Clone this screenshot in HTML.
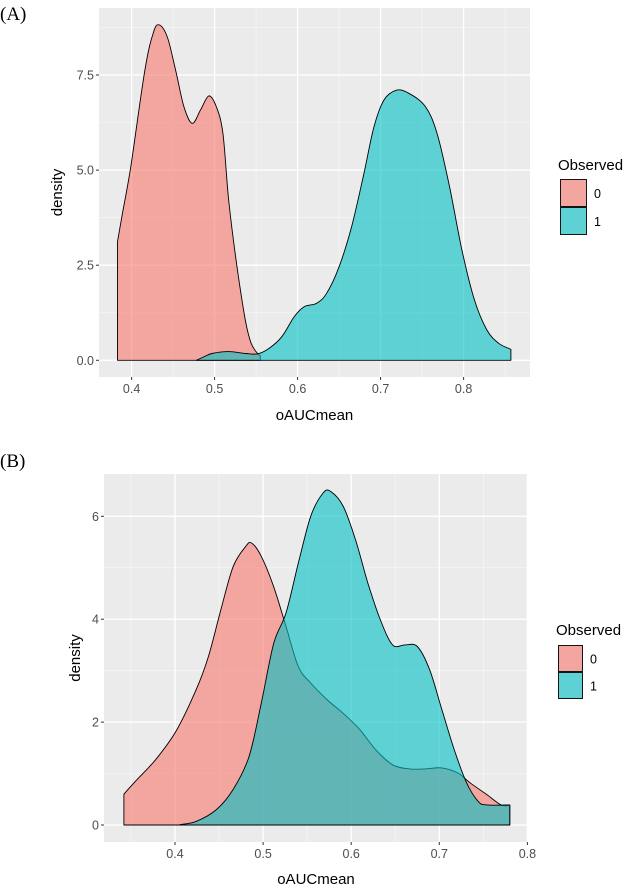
<!DOCTYPE html>
<html><head><meta charset="utf-8"><style>
body{margin:0;background:#fff;}
svg{display:block;font-family:"Liberation Sans",sans-serif;}
</style></head><body>
<svg id="s" width="641" height="888" viewBox="0 0 641 888"></svg>
<script>
// Panel A data
const aX0 = [0.383,0.389,0.399,0.416,0.426,0.433,0.443,0.453,0.463,0.473,0.483,0.493,0.502,0.510,0.517,0.527,0.537,0.544,0.552,0.555];
const aY0 = [3.12,3.87,5.09,7.63,8.6,8.82,8.5,7.63,6.67,6.23,6.58,6.95,6.67,5.97,4.2,2.46,1.06,0.45,0.17,0.12];
const aX1 = [0.478,0.488,0.497,0.517,0.537,0.552,0.566,0.581,0.596,0.608,0.623,0.635,0.650,0.665,0.680,0.692,0.704,0.719,0.734,0.754,0.768,0.783,0.798,0.813,0.828,0.842,0.857];
const aY1 = [0.0,0.1,0.18,0.23,0.18,0.17,0.32,0.62,1.15,1.41,1.5,1.76,2.46,3.51,4.92,6.14,6.84,7.1,7.02,6.67,5.97,4.57,2.9,1.59,0.8,0.45,0.29];
const aXTicks = [0.4,0.5,0.6,0.7,0.8];
const aYTicks = [0,2.5,5,7.5];
const aYLabels = ["0.0","2.5","5.0","7.5"];
// Panel B data
const bX0 = [0.342,0.355,0.378,0.401,0.424,0.438,0.452,0.466,0.480,0.487,0.498,0.512,0.526,0.540,0.554,0.573,0.591,0.610,0.628,0.647,0.666,0.684,0.703,0.721,0.735,0.754,0.770,0.780];
const bY0 = [0.6,0.85,1.27,1.82,2.63,3.28,4.18,5.02,5.41,5.48,5.22,4.63,3.86,3.08,2.76,2.43,2.17,1.85,1.46,1.17,1.09,1.09,1.11,1.01,0.82,0.59,0.39,0.38];
const bX1 = [0.406,0.424,0.447,0.466,0.484,0.498,0.512,0.526,0.540,0.554,0.568,0.577,0.591,0.605,0.619,0.633,0.647,0.661,0.675,0.689,0.703,0.717,0.731,0.744,0.754,0.780];
const bY1 = [0.01,0.07,0.3,0.69,1.33,2.37,3.53,4.12,5.09,6.0,6.45,6.48,6.19,5.54,4.7,3.99,3.5,3.5,3.47,3.02,2.24,1.46,0.82,0.46,0.39,0.39];
const bXTicks = [0.4,0.5,0.6,0.7,0.8];
const bYTicks = [0,2,4,6];
const bYLabels = ["0","2","4","6"];

const NS="http://www.w3.org/2000/svg";
const svg=document.getElementById('s');
function mk(tag,attrs,parent){const e=document.createElementNS(NS,tag);for(const k in attrs)e.setAttribute(k,attrs[k]);(parent||svg).appendChild(e);return e;}

function smooth(pts){
  let d='';
  for(let i=0;i<pts.length-1;i++){
    const p0=pts[Math.max(0,i-1)],p1=pts[i],p2=pts[i+1],p3=pts[Math.min(pts.length-1,i+2)];
    const c1x=p1[0]+(p2[0]-p0[0])/6,c1y=p1[1]+(p2[1]-p0[1])/6;
    const c2x=p2[0]-(p3[0]-p1[0])/6,c2y=p2[1]-(p3[1]-p1[1])/6;
    d+=` C${c1x.toFixed(1)},${c1y.toFixed(1)} ${c2x.toFixed(1)},${c2y.toFixed(1)} ${p2[0].toFixed(1)},${p2[1].toFixed(1)}`;
  }
  return d;
}

function panel(cfg){
  const g=mk('g',{});
  
  
  const sx=v=>cfg.x0px+(v-cfg.x0v)*cfg.xs;
  const sy=v=>cfg.y0px-v*cfg.ys;
  const bg=mk('rect',{x:cfg.L,y:cfg.T,width:cfg.R-cfg.L,height:cfg.B-cfg.T,fill:'#ebebeb'},g);
  
  
  const xt=cfg.xticks, yt=cfg.yticks;
  const dx=xt[1]-xt[0], dy=yt[1]-yt[0];
  for(let v=xt[0]-dx/2; v<=xt[xt.length-1]+dx; v+=dx){const p=sx(v); if(p>cfg.L&&p<cfg.R) mk('line',{x1:p,x2:p,y1:cfg.T,y2:cfg.B,stroke:'#f7f7f7','stroke-width':0.7},g);}
  for(let v=yt[0]-dy/2; v<=yt[yt.length-1]+dy; v+=dy){const p=sy(v); if(p>cfg.T&&p<cfg.B) mk('line',{x1:cfg.L,x2:cfg.R,y1:p,y2:p,stroke:'#f7f7f7','stroke-width':0.7},g);}
  xt.forEach(v=>{const p=sx(v); if(p>=cfg.L&&p<=cfg.R) mk('line',{x1:p,x2:p,y1:cfg.T,y2:cfg.B,stroke:'#fff','stroke-width':1.3},g);
    mk('line',{x1:p,x2:p,y1:cfg.B,y2:cfg.B+3,stroke:'#333','stroke-width':1},g);
    const t=mk('text',{x:p,y:cfg.B+16,'text-anchor':'middle','font-size':12.5,fill:'#4d4d4d'},g);t.textContent=String(v);
    
    });
  yt.forEach((v,i)=>{const p=sy(v); mk('line',{x1:cfg.L,x2:cfg.R,y1:p,y2:p,stroke:'#fff','stroke-width':1.3},g);
    mk('line',{x1:cfg.L-3,x2:cfg.L,y1:p,y2:p,stroke:'#333','stroke-width':1},g);
    const t=mk('text',{x:cfg.L-5,y:p+4.5,'text-anchor':'end','font-size':12.5,fill:'#4d4d4d'},g);t.textContent=cfg.ylabels[i];
    
    });
  function area(xs,ys,color,nm){
    const pts=xs.map((x,i)=>[sx(x),sy(ys[i])]);
    let d='M'+sx(xs[0])+','+sy(0)+' L'+pts[0][0].toFixed(1)+','+pts[0][1].toFixed(1)+smooth(pts);
    d+=' L'+sx(xs[xs.length-1])+','+sy(0)+' Z';
    const p=mk('path',{d:d,fill:color,'fill-opacity':0.6,stroke:'#000','stroke-width':0.9,'stroke-linejoin':'round'},g);
    
    
  }
  area(cfg.x0s,cfg.y0s,'#F8766D','density-observed-0');
  area(cfg.x1s,cfg.y1s,'#00BFC4','density-observed-1');
  const xl=mk('text',{x:(cfg.L+cfg.R)/2,y:cfg.xlabY,'text-anchor':'middle','font-size':15,fill:'#000'},g);xl.textContent='oAUCmean';
  
  
  const yl=mk('text',{x:0,y:0,'text-anchor':'middle','font-size':15,fill:'#000',transform:`translate(${cfg.ylabX},${(cfg.T+cfg.B)/2}) rotate(-90)`},g);yl.textContent='density';
  
  
  const pl=mk('text',{x:0,y:cfg.tagY,'font-size':19,'font-family':'"Liberation Serif",serif',fill:'#000'},g);pl.textContent=cfg.tag;
  
  
  const lt=mk('text',{x:cfg.legX-2,y:cfg.legY,'font-size':15,fill:'#000'},g);lt.textContent='Observed';
  
  
  [['#F8766D','0'],['#00BFC4','1']].forEach((c,i)=>{
    const y=cfg.keyY+i*cfg.keyH;
    mk('rect',{x:cfg.legX,y:y,width:cfg.keyW,height:cfg.keyH,fill:'#ebebeb'},g);
    const r=mk('rect',{x:cfg.legX+0.5,y:y+0.5,width:cfg.keyW-1,height:cfg.keyH-1,fill:c[0],'fill-opacity':0.6,stroke:'#000','stroke-width':0.9},g);
    
    
    const t=mk('text',{x:cfg.legX+cfg.keyW+7,y:y+cfg.keyH/2+5,'font-size':12.5,fill:'#000'},g);t.textContent=c[1];
    
    
  });
}
panel({name:'panel-a',L:99,R:530,T:8,B:377,x0v:0.4,x0px:131.6,xs:830,y0px:360.3,ys:38.04,
  xticks:aXTicks,yticks:aYTicks,ylabels:aYLabels,x0s:aX0,y0s:aY0,x1s:aX1,y1s:aY1,
  xlabY:420,ylabX:62,tagY:20,tag:'(A)',legX:560,legY:170,keyY:179,keyW:27,keyH:28});
panel({name:'panel-b',L:104,R:528,T:474,B:842,x0v:0.4,x0px:175,xs:881,y0px:825,ys:51.45,
  xticks:bXTicks,yticks:bYTicks,ylabels:bYLabels,x0s:bX0,y0s:bY0,x1s:bX1,y1s:bY1,
  xlabY:884,ylabX:80,tagY:467,tag:'(B)',legX:558,legY:635,keyY:645,keyW:25,keyH:27});
</script>
</body></html>
